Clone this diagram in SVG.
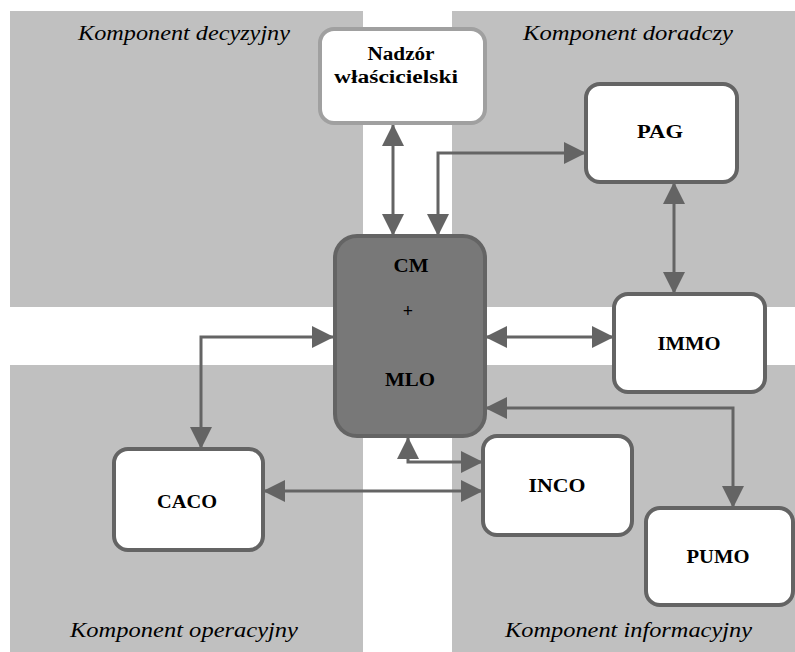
<svg xmlns="http://www.w3.org/2000/svg" width="795" height="652" viewBox="0 0 795 652">
<style>
.bg{fill:#c0c0c0}
.node{fill:#ffffff;stroke:#646464;stroke-width:4}
.lbl{font-family:"Liberation Serif","Times New Roman",serif;font-weight:bold;font-size:18px;fill:#000;text-anchor:middle}
.zone{font-family:"Liberation Serif","Times New Roman",serif;font-style:italic;font-size:21px;fill:#000}
.conn{fill:none;stroke:#646464;stroke-width:3}
</style>
<defs>
<marker id="ah" markerUnits="userSpaceOnUse" markerWidth="22" markerHeight="22" refX="21" refY="11" orient="auto-start-reverse">
<path d="M0,0 L22,11 L0,22 z" fill="#646464"/>
</marker>
</defs>
<rect width="795" height="652" fill="#ffffff"/>
<g id="zones">
<rect class="bg" x="10" y="11" width="353" height="296"/>
<rect class="bg" x="452" y="11" width="343" height="296"/>
<rect class="bg" x="10" y="365" width="353" height="287"/>
<rect class="bg" x="452" y="365" width="343" height="287"/>
<text class="zone" x="78" y="40" textLength="212" lengthAdjust="spacingAndGlyphs">Komponent decyzyjny</text>
<text class="zone" x="523" y="40" textLength="210" lengthAdjust="spacingAndGlyphs">Komponent doradczy</text>
<text class="zone" x="70" y="637" textLength="228" lengthAdjust="spacingAndGlyphs">Komponent operacyjny</text>
<text class="zone" x="505" y="637" textLength="247" lengthAdjust="spacingAndGlyphs">Komponent informacyjny</text>
</g>
<g id="connectors">
<path class="conn" d="M393,125 V235" marker-start="url(#ah)" marker-end="url(#ah)"/>
<path class="conn" d="M438,235 V153 H585" marker-start="url(#ah)" marker-end="url(#ah)"/>
<path class="conn" d="M674,183 V293" marker-start="url(#ah)" marker-end="url(#ah)"/>
<path class="conn" d="M486,337 H613" marker-start="url(#ah)" marker-end="url(#ah)"/>
<path class="conn" d="M333,337 H201 V448" marker-start="url(#ah)" marker-end="url(#ah)"/>
<path class="conn" d="M486,408 H733 V507" marker-start="url(#ah)" marker-end="url(#ah)"/>
<path class="conn" d="M408,438 V462 H482" marker-start="url(#ah)" marker-end="url(#ah)"/>
<path class="conn" d="M264,491 H482" marker-start="url(#ah)" marker-end="url(#ah)"/>
</g>
<g id="nadzor">
<rect x="320" y="29" width="165" height="94" rx="14" fill="#ffffff" stroke="#a0a0a0" stroke-width="4"/>
<text class="lbl" x="401" y="60" textLength="67" lengthAdjust="spacingAndGlyphs">Nadzór</text>
<text class="lbl" x="396" y="83" textLength="124" lengthAdjust="spacingAndGlyphs">właścicielski</text>
</g>
<g id="cm">
<rect x="335" y="236" width="150" height="200" rx="22" fill="#787878" stroke="#646464" stroke-width="4"/>
<text class="lbl" x="411" y="272" textLength="35" lengthAdjust="spacingAndGlyphs">CM</text>
<text class="lbl" x="408" y="317">+</text>
<text class="lbl" x="410" y="386" textLength="50" lengthAdjust="spacingAndGlyphs">MLO</text>
</g>
<g id="pag">
<rect class="node" x="586" y="84" width="151" height="98" rx="14"/>
<text class="lbl" x="660" y="138" textLength="46" lengthAdjust="spacingAndGlyphs">PAG</text>
</g>
<g id="immo">
<rect class="node" x="614" y="294" width="151" height="98" rx="14"/>
<text class="lbl" x="689" y="350" textLength="63" lengthAdjust="spacingAndGlyphs">IMMO</text>
</g>
<g id="caco">
<rect class="node" x="114" y="449" width="149" height="101" rx="14"/>
<text class="lbl" x="187" y="508" textLength="60" lengthAdjust="spacingAndGlyphs">CACO</text>
</g>
<g id="inco">
<rect class="node" x="483" y="436" width="149" height="99" rx="14"/>
<text class="lbl" x="557" y="492" textLength="57" lengthAdjust="spacingAndGlyphs">INCO</text>
</g>
<g id="pumo">
<rect class="node" x="646" y="508" width="147" height="97" rx="14"/>
<text class="lbl" x="718" y="563" textLength="63" lengthAdjust="spacingAndGlyphs">PUMO</text>
</g>
</svg>
